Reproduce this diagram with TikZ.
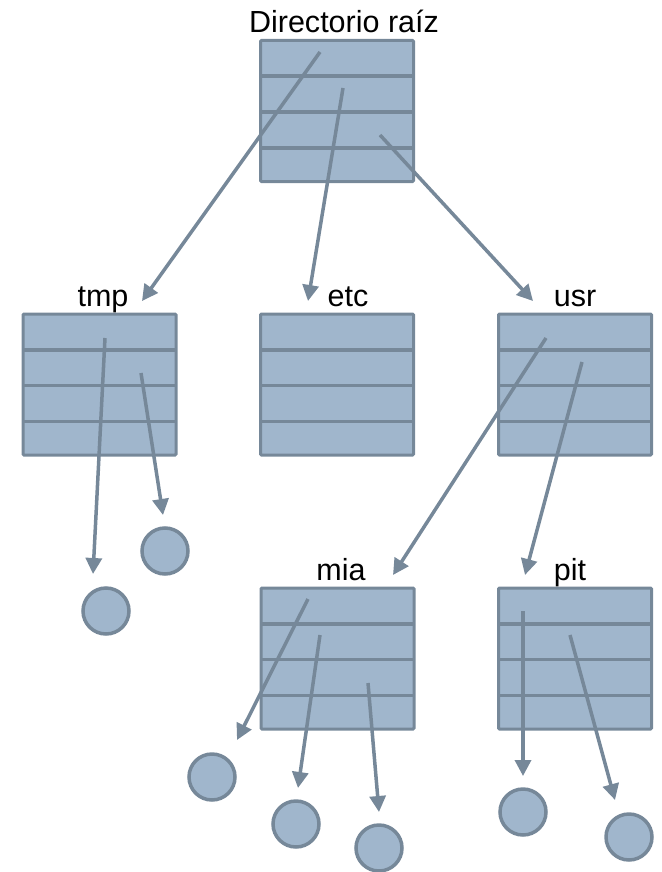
\documentclass[tikz,border=0pt]{standalone}
\usepackage{fontspec}
\setmainfont{Liberation Sans}
\usetikzlibrary{arrows.meta}

\definecolor{dirfill}{RGB}{160,182,204}
\definecolor{dirline}{RGB}{118,136,153}

\tikzset{
  dirbox/.style={draw=dirline, fill=dirfill, line width=3pt, rounded corners=1pt,
    minimum width=153pt, minimum height=141pt, inner sep=0pt, outer sep=0pt},
  rowline/.style={draw=dirline, line width=3.5pt},
  filenode/.style={circle, draw=dirline, fill=dirfill, line width=3.5pt,
    minimum size=46pt, inner sep=0pt},
  dirlabel/.style={anchor=base, inner sep=0pt, font=\fontsize{30.5}{34}\selectfont},
  pointer/.style={draw=dirline, line width=3.5pt,
    -{Triangle[length=16pt,width=16pt]}}
}

% directory table: name, centre, label x, label text
\newcommand\dirtable[5]{%
  \node[dirbox] (#1) at (#2,#3) {};
  \foreach \k in {1,2,3}
    \draw[rowline] ([yshift=-\k*35.75pt]#1.north west) -- ([yshift=-\k*35.75pt]#1.north east);
  \node[dirlabel] (#1-label) at (#4,#3-78.5) {#5};
}

\begin{document}
\begin{tikzpicture}[x=1pt,y=-1pt]
\useasboundingbox (0,0) rectangle (661,872);

\dirtable{root}{337}{111}{344}{Directorio raíz}
\dirtable{tmp}{99.5}{384.5}{103}{tmp}
\dirtable{etc}{337}{384.5}{348}{etc}
\dirtable{usr}{575}{384.5}{575}{usr}
\dirtable{mia}{337.5}{658.5}{341}{mia}
\dirtable{pit}{575}{658.5}{570}{pit}

% files
\node[filenode] (tmp-f1) at (106,611) {};
\node[filenode] (tmp-f2) at (165,551) {};
\node[filenode] (mia-f1) at (212,777) {};
\node[filenode] (mia-f2) at (296,824) {};
\node[filenode] (mia-f3) at (379,848) {};
\node[filenode] (pit-f1) at (523,812) {};
\node[filenode] (pit-f2) at (629,837) {};

% entry points inside the tables
\coordinate (root-e1) at (320,52);
\coordinate (root-e2) at (343,88);
\coordinate (root-e3) at (380,135);
\coordinate (tmp-e1) at (105,338);
\coordinate (tmp-e2) at (141,373);
\coordinate (usr-e1) at (546,338);
\coordinate (usr-e2) at (582,362);
\coordinate (mia-e1) at (308,599);
\coordinate (mia-e2) at (320,635);
\coordinate (mia-e3) at (368,683);
\coordinate (pit-e1) at (523,611);
\coordinate (pit-e2) at (570,635);

% arrow tips
\coordinate (to-tmp) at (142,301);
\coordinate (to-etc) at (308,301);
\coordinate (to-usr) at (533,301);
\coordinate (to-tmp-f1) at (93,574);
\coordinate (to-tmp-f2) at (163,515);
\coordinate (to-mia) at (393,575);
\coordinate (to-pit) at (525,575);
\coordinate (to-mia-f1) at (237,740);
\coordinate (to-mia-f2) at (298,788);
\coordinate (to-mia-f3) at (379,812);
\coordinate (to-pit-f1) at (523,776);
\coordinate (to-pit-f2) at (615,800);

\draw[pointer] (root-e1) -- (to-tmp);
\draw[pointer] (root-e2) -- (to-etc);
\draw[pointer] (root-e3) -- (to-usr);
\draw[pointer] (tmp-e1) -- (to-tmp-f1);
\draw[pointer] (tmp-e2) -- (to-tmp-f2);
\draw[pointer] (usr-e1) -- (to-mia);
\draw[pointer] (usr-e2) -- (to-pit);
\draw[pointer] (mia-e1) -- (to-mia-f1);
\draw[pointer] (mia-e2) -- (to-mia-f2);
\draw[pointer] (mia-e3) -- (to-mia-f3);
\draw[pointer] (pit-e1) -- (to-pit-f1);
\draw[pointer] (pit-e2) -- (to-pit-f2);
\end{tikzpicture}
\end{document}
